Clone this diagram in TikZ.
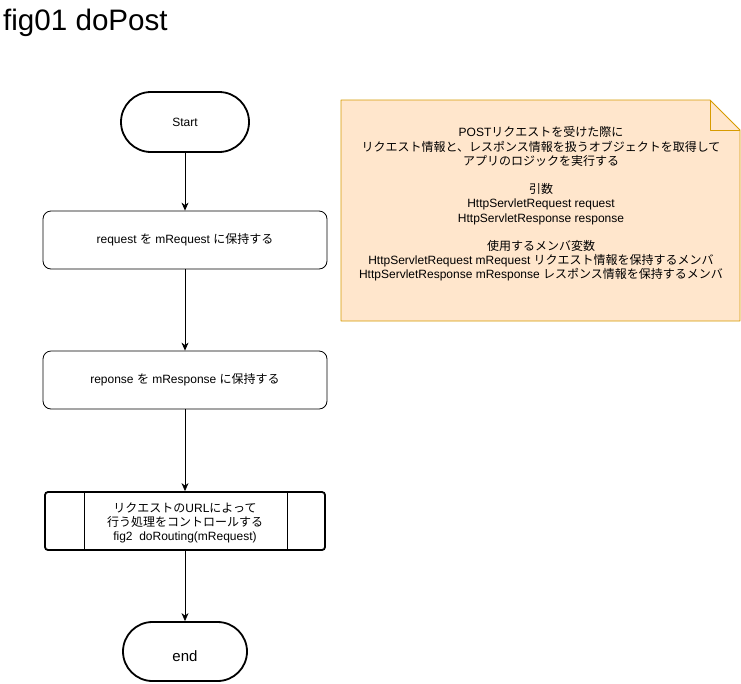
\documentclass[tikz,border=0pt]{standalone}
\usepackage{fontspec}
\setmainfont{Liberation Sans}
\newfontfamily\cjk{Noto Sans CJK JP}
\newcommand\jp[1]{{\cjk #1}}
\usetikzlibrary{arrows.meta}
\definecolor{notefill}{HTML}{FFE6CC}
\definecolor{notedraw}{HTML}{D79B00}
\tikzset{
  txt/.style={font=\fontsize{12}{14.2}\selectfont, inner sep=0pt, align=center},
  term/.style={draw, line width=1.8pt, rectangle, rounded corners=30pt, minimum width=128pt, minimum height=60pt, txt},
  procbox/.style={draw, line width=0.8pt, rectangle, rounded corners=8pt, minimum width=284pt, minimum height=58pt, txt},
  subproc/.style={draw, line width=1.8pt, rectangle, rounded corners=3pt, minimum width=280pt, minimum height=58pt, txt},
  arr/.style={line width=0.8pt, -{Stealth[length=8pt,width=7pt,inset=2.5pt]}}
}
\begin{document}
\begin{tikzpicture}[x=1pt,y=-1pt]
\useasboundingbox[fill=white] (0,0) rectangle (741,683);
% title
\node[anchor=base west, inner sep=0pt, font=\fontsize{29.6}{34}\selectfont] (title) at (3,30) {fig01 doPost};
% flow nodes
\node[term] (start) at (185,122) {Start};
\node[procbox] (b1) at (185,240) {request \jp{を} mRequest \jp{に保持する}};
\node[procbox] (b2) at (185,380) {reponse \jp{を} mResponse \jp{に保持する}};
\node[subproc] (sp) at (185,521) {};
\node[txt] (sptext) at (185,523) {\jp{リクエストの}URL\jp{によって}\\\jp{行う処理をコントロールする}\\fig2\ \ doRouting(mRequest)};
\draw[line width=0.8pt] ([xshift=40pt]sp.north west) -- ([xshift=40pt]sp.south west);
\draw[line width=0.8pt] ([xshift=-39pt]sp.north east) -- ([xshift=-39pt]sp.south east);
\node[term, minimum width=124pt, minimum height=59pt, rounded corners=29.5pt] (end) at (185,651.5) {};
\node[txt, font=\fontsize{15}{18}\selectfont] (endtext) at (185,656) {end};
% connectors
\draw[arr] (start) -- (b1);
\draw[arr] (b1) -- (b2);
\draw[arr] (b2) -- (sp);
\draw[arr] (sp) -- (end);
% note
\coordinate (n1) at (341,100);
\coordinate (n2) at (710,100);
\coordinate (n3) at (740,130);
\coordinate (n4) at (740,321);
\coordinate (n5) at (341,321);
\coordinate (nf) at (710,130);
\draw[notedraw, fill=notefill, line width=0.8pt, line join=round] (n1) -- (n2) -- (n3) -- (n4) -- (n5) -- cycle;
\draw[notedraw, line width=0.8pt, line join=round] (n2) -- (nf) -- (n3);
\node[txt] (notetext) at (541,204) {POST\jp{リクエストを受けた際に}\\
\jp{リクエスト情報と、レスポンス情報を扱うオブジェクトを取得して}\\
\jp{アプリのロジックを実行する}\\[14.2pt]
\jp{引数}\\
HttpServletRequest request\\
HttpServletResponse response\\[14.2pt]
\jp{使用するメンバ変数}\\
HttpServletRequest mRequest \jp{リクエスト情報を保持するメンバ}\\
HttpServletResponse mResponse \jp{レスポンス情報を保持するメンバ}};
\end{tikzpicture}
\end{document}
